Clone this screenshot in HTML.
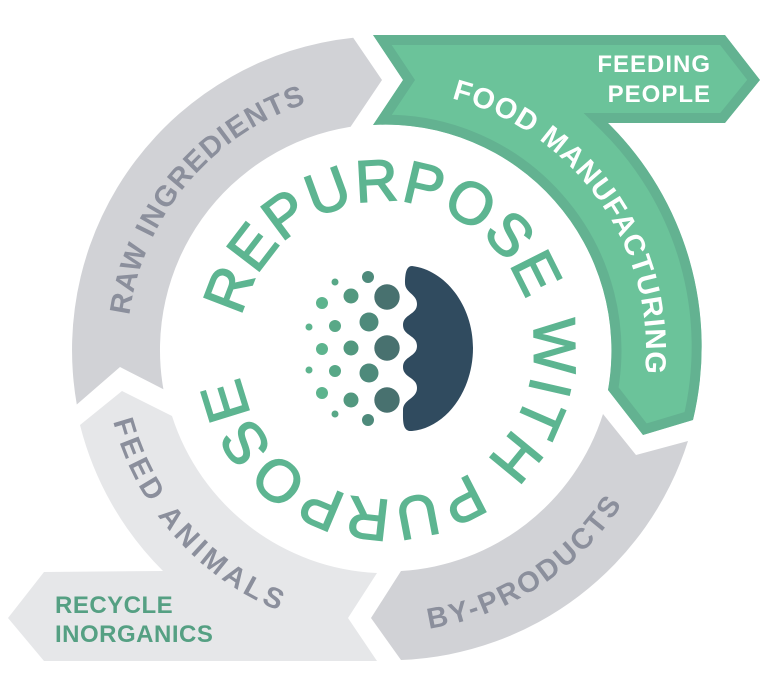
<!DOCTYPE html>
<html><head><meta charset="utf-8"><style>
html,body{margin:0;padding:0;background:#fff;}
svg{display:block;}
</style></head><body>
<svg width="768" height="698" viewBox="0 0 768 698" xmlns="http://www.w3.org/2000/svg" font-family="Liberation Sans, sans-serif">
<defs>
<clipPath id="gc"><path id="gp" d="M373 35 L725 35 L760 80 L725 123 L608 123 A314 314 0 0 1 693 420 L643 435 L608 390 A226 226 0 0 0 373 125 L403 80 Z"/></clipPath>
<path id="tRaw" d="M127 350 A259 259 0 0 1 341 94.9"/>
<path id="tFood" d="M386 90 A260 260 0 0 1 630.3 438.9"/>
<path id="tFeed" d="M105.1 374.6 A282 282 0 0 0 327.4 625.8"/>
<path id="tBy" d="M376.2 631.8 A282 282 0 0 0 647.5 455.6"/>
<path id="tCirc" d="M241.8 316.7 A148 148 0 1 1 530.2 383.3 A148 148 0 1 1 241.8 316.7"/>
</defs>
<path d="M76.8 404.5 A314 314 0 0 1 353.2 37.7 L382 80 L350.6 126.8 A226 226 0 0 0 163.4 389.2 L120 367 Z" fill="#d1d2d6"/>
<path d="M80 425 L122 391 L172 416 A226 226 0 0 0 377 573 L348 618 L377 661 L44 661 L8 618 L44 572 L163 571 A314 314 0 0 1 80 425 Z" fill="#e6e7e9"/>
<path d="M603 414 A226 226 0 0 1 401 571 L371 618 L401 660 A314 314 0 0 0 688 441 L636 455 Z" fill="#d1d2d6"/>
<path d="M373 35 L725 35 L760 80 L725 123 L608 123 A314 314 0 0 1 693 420 L643 435 L608 390 A226 226 0 0 0 373 125 L403 80 Z" fill="#6bc39a" stroke="#63b291" stroke-width="20" clip-path="url(#gc)"/>

<g font-weight="bold" font-size="29">
<text fill="#8b8f9c" letter-spacing="1.2" text-anchor="middle"><textPath href="#tRaw" startOffset="50%">RAW INGREDIENTS</textPath></text>
<text fill="#ffffff" letter-spacing="1" text-anchor="middle"><textPath href="#tFood" startOffset="50%">FOOD MANUFACTURING</textPath></text>
<text fill="#8b8f9c" letter-spacing="4" text-anchor="middle"><textPath href="#tFeed" startOffset="50%">FEED ANIMALS</textPath></text>
<text fill="#8b8f9c" letter-spacing="2.5" text-anchor="middle"><textPath href="#tBy" startOffset="50%">BY-PRODUCTS</textPath></text>
</g>
<g font-weight="bold" font-size="24">
<text x="711" y="72" fill="#fff" text-anchor="end" letter-spacing="1">FEEDING</text>
<text x="711" y="102" fill="#fff" text-anchor="end" letter-spacing="1">PEOPLE</text>
<text x="55" y="613" fill="#55a083" letter-spacing="0.5">RECYCLE</text>
<text x="55" y="642" fill="#55a083" letter-spacing="0.5">INORGANICS</text>
</g>
<text font-size="59" fill="#5db591" stroke="#5db591" stroke-width="1.6" letter-spacing="1.5"><textPath href="#tCirc">REPURPOSE WITH PURPOSE</textPath></text>

<path d="M412 266 C445 270 473 305 473 348 C473 392 445 428 412 431 C402 432 403 420 403 410 C403 399 417 399 417 388 C417 377 403 378 403 367 C403 356 417 357 417 346 C417 335 403 336 403 325 C403 314 417 315 417 304 C417 294 405 293 405 283 C405 272 407 266 412 266 Z" fill="#304b5f"/>
<g fill="#48716f"><circle cx="387" cy="297" r="12.7"/><circle cx="387" cy="348" r="12.7"/><circle cx="387" cy="400" r="12.7"/></g>
<g fill="#4e8a7b"><circle cx="369" cy="322" r="9.5"/><circle cx="369" cy="373" r="9.5"/><circle cx="368" cy="277" r="6"/><circle cx="368" cy="420" r="6"/></g>
<g fill="#52987f"><circle cx="351" cy="296" r="7.5"/><circle cx="351" cy="348" r="7.5"/><circle cx="351" cy="400" r="7.5"/></g>
<g fill="#58a887"><circle cx="335" cy="326" r="6"/><circle cx="335" cy="371" r="6"/><circle cx="335" cy="282" r="3.5"/><circle cx="335" cy="414" r="3.5"/></g>
<g fill="#5db48e"><circle cx="322" cy="303" r="6"/><circle cx="322" cy="349" r="6"/><circle cx="322" cy="393" r="6"/><circle cx="309" cy="327" r="3.5"/><circle cx="309" cy="370" r="3.5"/></g>
</svg>
</body></html>
